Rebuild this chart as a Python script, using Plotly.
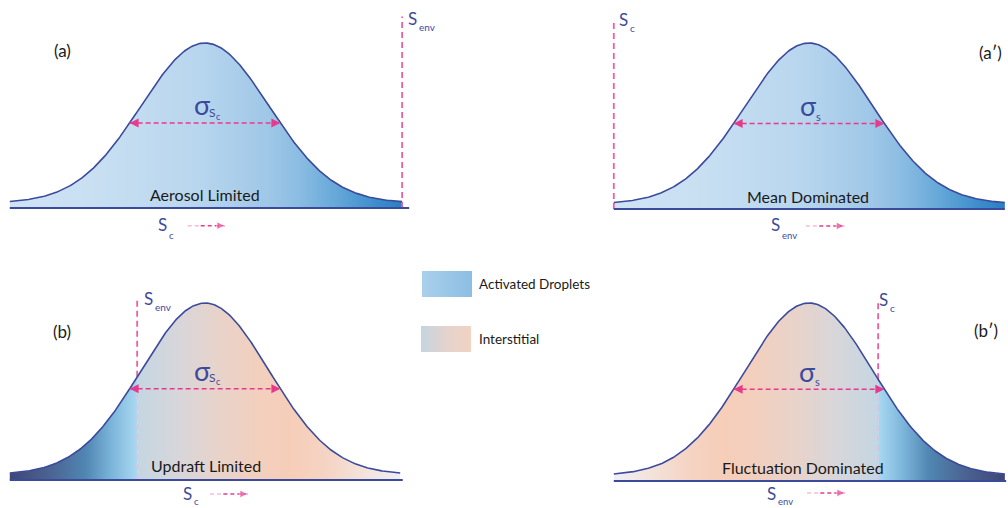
import numpy as np
import plotly.graph_objects as go

W, H = 1008, 508
FONT = "Lato"
INK = "#3c4a9c"        # curve / baseline / symbol colour
PINK = "#ee5fa2"       # threshold lines
ARROW = "#e63b8d"      # sigma arrows

# ---- regime data (x in standard deviations from the mean) ----
panel_tags = ["(a)", "(a′)", "(b)", "(b′)"]
regime_names = ["Aerosol Limited", "Mean Dominated", "Updraft Limited", "Fluctuation Dominated"]
curve_lo = [-3.05, -3.05, -3.05, -3.05]
curve_hi = [3.08, 3.06, 3.05, 3.06]
baseline_hi = [3.19, 3.06, 3.09, 3.08]
threshold_pos = [3.08, -3.05, -1.06, 1.08]
threshold_top = [1.16, 1.13, 1.02, 1.02]
threshold_name = ["env", "c", "env", "c"]
sigma_sub = ["S_c", "s", "S_c", "s"]
axis_sub = ["c", "env", "c", "env"]
tail_offset = 0.03
half_width = np.sqrt(2 * np.log(2))

# fill colour scales
activated_full = [[0.0, "#cfe3f4"], [0.23, "#c8dff2"], [0.48, "#b8d6ee"], [0.66, "#9fc7e7"],
                  [0.74, "#8abce2"], [0.84, "#62a6d8"], [0.94, "#3a8bcb"], [1.0, "#2a7fc2"]]
activated_tail_left = [[0.0, "#3e4676"], [0.35, "#4c6795"], [0.6, "#5087b3"], [0.8, "#7cb5da"], [1.0, "#a9d9f1"]]
activated_tail_right = [[1 - p, c] for p, c in reversed(activated_tail_left)]
interstitial_right = [[0.0, "#c4d6e2"], [0.16, "#d8d6da"], [0.31, "#e8d3ca"], [0.47, "#f3cfbd"],
                      [0.6, "#f6ceb9"], [0.72, "#f5d4c4"], [0.87, "#f3e4dc"], [1.0, "#eef0f5"]]
interstitial_left = [[1 - p, c] for p, c in reversed(interstitial_right)]

# (left colourscale, right colourscale) split at the threshold; None = no split
fills = [(activated_full, None), (activated_full, None),
         (activated_tail_left, interstitial_right), (interstitial_left, activated_tail_right)]

# ---- panel frames (pixel boxes and scale) ----
SIG_PX = 64
frames = [
    dict(box=(0, 504, 0, 254), mu=205, base=208, amp=165),
    dict(box=(504, 1008, 0, 254), mu=809, base=209, amp=166),
    dict(box=(0, 504, 254, 508), mu=205, base=480, amp=177),
    dict(box=(504, 1008, 254, 508), mu=809, base=481, amp=178),
]


def bell(x):
    return tail_offset + (1 - tail_offset) * np.exp(-0.5 * np.asarray(x) ** 2)


fig = go.Figure()
layout_axes = {}

for i, fr in enumerate(frames):
    n = "" if i == 0 else str(i + 1)
    x0, x1, y0, y1 = fr["box"]
    layout_axes[f"xaxis{n}"] = dict(domain=[x0 / W, x1 / W],
                                   range=[(x0 - fr["mu"]) / SIG_PX, (x1 - fr["mu"]) / SIG_PX],
                                   visible=False, anchor=f"y{n}")
    layout_axes[f"yaxis{n}"] = dict(domain=[1 - y1 / H, 1 - y0 / H],
                                   range=[(fr["base"] - y1) / fr["amp"], (fr["base"] - y0) / fr["amp"]],
                                   visible=False, anchor=f"x{n}")
    xa, ya = f"x{n}", f"y{n}"
    lo, hi, thr = curve_lo[i], curve_hi[i], threshold_pos[i]
    left_cs, right_cs = fills[i]

    segments = [(lo, hi, left_cs)] if right_cs is None else [(lo, thr, left_cs), (thr, hi, right_cs)]
    for s0, s1, cs in segments:
        xs = np.linspace(s0, s1, 200)
        fig.add_trace(go.Scatter(
            x=np.concatenate([xs, [s1, s0]]), y=np.concatenate([bell(xs), [0, 0]]),
            mode="lines", line=dict(width=0), fill="toself",
            fillgradient=dict(type="horizontal", colorscale=cs, start=s0, stop=s1),
            hoverinfo="skip", xaxis=xa, yaxis=ya))

    # threshold line (pink above the curve, pale inside the fill)
    ycut = float(bell(thr)) if right_cs is not None else 0.0
    fig.add_trace(go.Scatter(x=[thr, thr], y=[ycut, threshold_top[i]], mode="lines",
                             line=dict(color=PINK, width=1.8, dash="6px,4px"),
                             hoverinfo="skip", xaxis=xa, yaxis=ya))
    if right_cs is not None:
        fig.add_trace(go.Scatter(x=[thr, thr], y=[0, ycut], mode="lines",
                                 line=dict(color="#d7c6ea", width=1.8, dash="6px,4px"),
                                 hoverinfo="skip", xaxis=xa, yaxis=ya))

    # bell outline and baseline
    xs = np.linspace(lo, hi, 400)
    fig.add_trace(go.Scatter(x=xs, y=bell(xs), mode="lines", line=dict(color=INK, width=1.6),
                             hoverinfo="skip", xaxis=xa, yaxis=ya))
    fig.add_trace(go.Scatter(x=[lo, baseline_hi[i]], y=[0, 0], mode="lines",
                             line=dict(color=INK, width=2.2), hoverinfo="skip", xaxis=xa, yaxis=ya))

    # full width at half maximum arrow
    yh = float(bell(half_width))
    fig.add_trace(go.Scatter(x=[-half_width, half_width], y=[yh, yh], mode="lines+markers",
                             line=dict(color=ARROW, width=1.5, dash="5px,3px"),
                             marker=dict(symbol=["arrow-left", "arrow-right"], size=9, color=ARROW),
                             hoverinfo="skip", xaxis=xa, yaxis=ya))

# small direction arrows under each baseline: (x start, x end, y) in panel units
dir_arrows = [(-0.27, 0.31, -0.107), (-0.05, 0.55, -0.102), (0.08, 0.67, -0.079), (-0.03, 0.56, -0.067)]
for i, (a0, a1, ay) in enumerate(dir_arrows):
    n = "" if i == 0 else str(i + 1)
    mid = a0 + 0.35 * (a1 - a0)
    fig.add_trace(go.Scatter(x=[a0, mid], y=[ay, ay], mode="lines",
                             line=dict(color="#f6bcd7", width=1.5, dash="4px,3px"),
                             hoverinfo="skip", xaxis=f"x{n}", yaxis=f"y{n}"))
    fig.add_trace(go.Scatter(x=[mid, a1], y=[ay, ay], mode="lines+markers",
                             line=dict(color=ARROW, width=1.5, dash="4px,3px"),
                             marker=dict(symbol=["circle", "arrow-right"], size=[0, 8], color=ARROW),
                             hoverinfo="skip", xaxis=f"x{n}", yaxis=f"y{n}"))

# ---- legend swatches on a pixel-scaled overlay axis ----
layout_axes["xaxis5"] = dict(domain=[0, 1], range=[0, W], visible=False, anchor="y5")
layout_axes["yaxis5"] = dict(domain=[0, 1], range=[H, 0], visible=False, anchor="x5")
legend_items = ["Activated Droplets", "Interstitial"]
legend_scales = [[[0, "#aad0ec"], [1, "#8cbee3"]],
                 [[0, "#c4d5e0"], [0.5, "#e4d3cd"], [1, "#f2d2c3"]]]
legend_boxes = [(422, 472, 271, 297), (421, 471, 326, 352)]
for (bx0, bx1, by0, by1), cs in zip(legend_boxes, legend_scales):
    fig.add_trace(go.Scatter(x=[bx0, bx1, bx1, bx0, bx0], y=[by0, by0, by1, by1, by0],
                             mode="lines", line=dict(width=0), fill="toself",
                             fillgradient=dict(type="horizontal", colorscale=cs, start=bx0, stop=bx1),
                             hoverinfo="skip", xaxis="x5", yaxis="y5"))

# ---- text ----
ann = []


def text(px, py, s, size, color="#1a1a1a", xanchor="center"):
    ann.append(dict(x=px / W, y=1 - py / H, xref="paper", yref="paper", text=s, showarrow=False,
                    xanchor=xanchor, yanchor="middle", font=dict(family=FONT, size=size, color=color)))


tag_xy = [(62, 50), (990, 52), (62, 331), (986, 330)]
for (px, py), t in zip(tag_xy, panel_tags):
    text(px, py, t, 17)

name_xy = [(205, 194), (808, 196), (206, 465), (803, 467)]
for (px, py), t in zip(name_xy, regime_names):
    text(px, py, t, 16)

# threshold labels
thr_xy = [(412, 18), (623, 19), (148, 298), (883, 299)]
for (px, py), sub in zip(thr_xy, threshold_name):
    text(px, py, "S", 17, INK)
    text(px + 5, py + 9, sub, 10, INK, xanchor="left")

# sigma labels
sig_xy = [(202, 105), (808, 106), (202, 370), (807, 371)]
for (px, py), sub in zip(sig_xy, sigma_sub):
    text(px, py, "σ", 27, INK)
    if sub == "S_c":
        text(px + 10, py + 7.5, "S", 12, INK)
        text(px + 16.5, py + 11, "c", 9, INK)
    else:
        text(px + 10, py + 10, "s", 11, INK)

# axis variable labels next to the direction arrows
axlab_xy = [(162, 224), (775, 224), (187, 493), (771, 493)]
axlab_drop = [11, 11, 8, 8]
for (px, py), sub, dy in zip(axlab_xy, axis_sub, axlab_drop):
    text(px, py, "S", 17, INK)
    text(px + 5, py + dy, sub, 9.5, INK, xanchor="left")

for (bx0, bx1, by0, by1), label in zip(legend_boxes, legend_items):
    text(477, (by0 + by1) / 2, label, 13.5, xanchor="left")

fig.update_layout(width=W, height=H, margin=dict(l=0, r=0, t=0, b=0),
                  paper_bgcolor="white", plot_bgcolor="rgba(0,0,0,0)",
                  showlegend=False, annotations=ann, **layout_axes)

fig.write_html("out.html")
